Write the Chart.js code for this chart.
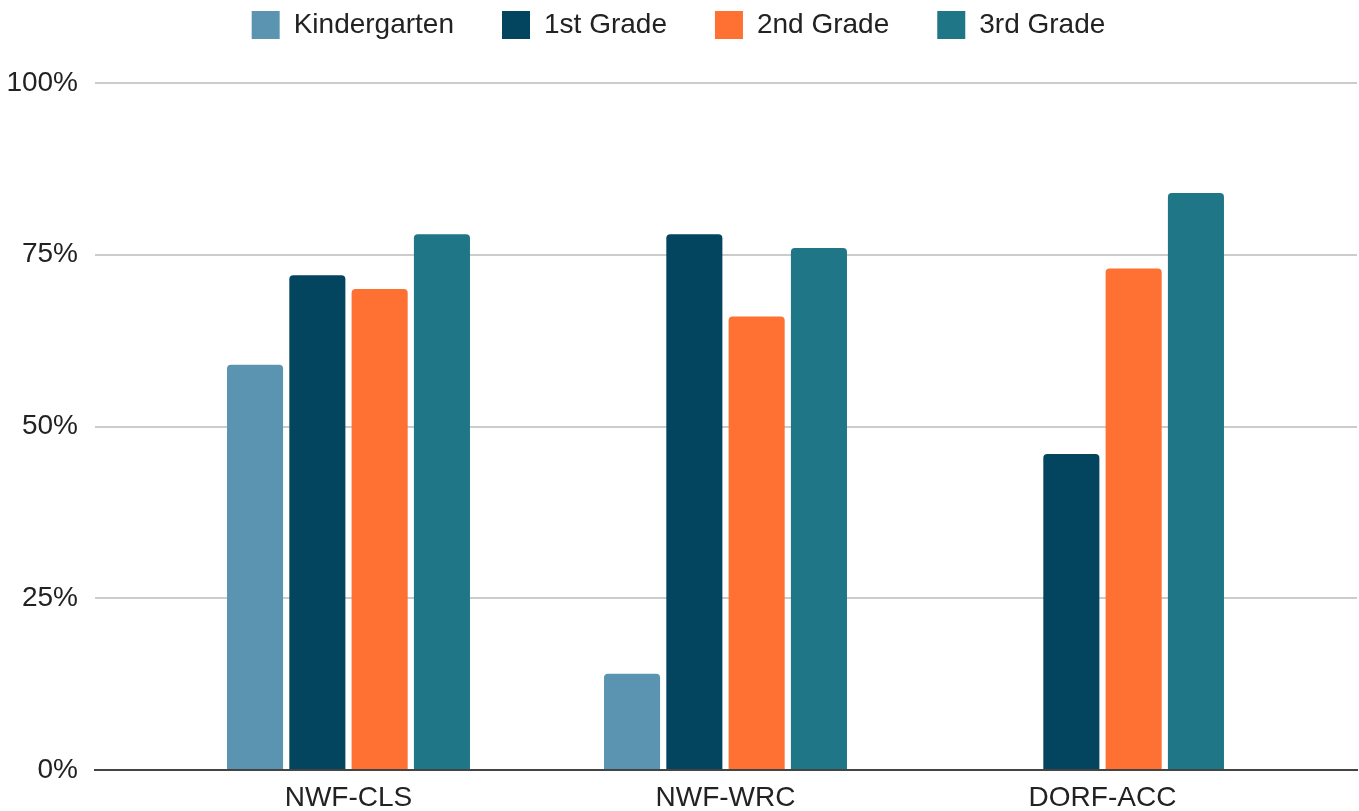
<!DOCTYPE html>
<html>
<head>
<meta charset="utf-8">
<script src="https://cdn.jsdelivr.net/npm/chart.js@4.4.1/dist/chart.umd.min.js"></script>
<style>
  html, body { margin: 0; padding: 0; background: #ffffff; }
  #wrap { width: 1359px; height: 811px; position: relative; }
</style>
</head>
<body>
<div id="wrap"><canvas id="c" width="1359" height="811"></canvas></div>
<script>
const categories = ['NWF-CLS', 'NWF-WRC', 'DORF-ACC'];
const seriesNames = ['Kindergarten', '1st Grade', '2nd Grade', '3rd Grade'];
const kindergarten = [59, 14, null];
const grade1 = [72, 78, 46];
const grade2 = [70, 66, 73];
const grade3 = [78, 76, 84];
const yTicks = [0, 25, 50, 75, 100];

const colors = ['#5b94b1', '#03445f', '#ff7033', '#1e7686'];
const seriesValues = [kindergarten, grade1, grade2, grade3];

const FONT = '"Liberation Sans", Arial, sans-serif';
const TEXT = '#222222';
const LEGEND_PAD = 48;
const LEGEND_BOX_TOP = 11;
const LEGEND_HEIGHT = 83;
const X_MIN = -0.6724;
const X_MAX = 2.6751;

const legendPlace = {
  id: 'legendPlace',
  beforeInit(chart) {
    const lg = chart.legend;
    if (lg) {
      const fit = lg.fit;
      lg.fit = function () { fit.call(this); this.height = LEGEND_HEIGHT; };
    }
  },
  afterLayout(chart) {
    const lg = chart.legend;
    if (lg) {
      lg.top = LEGEND_BOX_TOP - LEGEND_PAD;
      lg.bottom = lg.top + lg.height;
    }
  }
};

const datasets = seriesNames.map((name, s) => ({
  label: name,
  data: categories.map((c, i) => ({ x: i, y: seriesValues[s][i] })),
  backgroundColor: colors[s],
  borderWidth: 0,
  borderRadius: 4,
  categoryPercentage: 0.661,
  barPercentage: 0.9
}));

new Chart(document.getElementById('c'), {
  type: 'bar',
  data: { datasets },
  plugins: [legendPlace],
  options: {
    responsive: false,
    animation: false,
    layout: { padding: { top: 0, right: 2, bottom: 0, left: 0 } },
    plugins: {
      legend: {
        position: 'top',
        align: 'center',
        labels: {
          boxWidth: 28,
          boxHeight: 28,
          padding: LEGEND_PAD,
          color: TEXT,
          font: { family: FONT, size: 28 }
        }
      },
      tooltip: { enabled: false }
    },
    scales: {
      x: {
        type: 'linear',
        offset: false,
        min: X_MIN,
        max: X_MAX,
        grid: { display: false, drawTicks: false, offset: false },
        border: { display: true, color: '#444444', width: 2 },
        ticks: {
          stepSize: 1,
          includeBounds: false,
          autoSkip: false,
          maxRotation: 0,
          padding: 11,
          color: TEXT,
          font: { family: FONT, size: 28 },
          callback: (v) => (Number.isInteger(v) && categories[v] !== undefined) ? categories[v] : ''
        },
        afterFit: (scale) => { scale.height = 41; }
      },
      y: {
        min: 0,
        max: 100,
        grid: {
          color: (ctx) => (ctx.tick && ctx.tick.value === 0) ? 'rgba(0,0,0,0)' : '#cccccc',
          lineWidth: 2,
          drawTicks: false
        },
        border: { display: false },
        afterBuildTicks: (scale) => { scale.ticks = yTicks.map(v => ({ value: v })); },
        ticks: {
          padding: 17,
          color: TEXT,
          font: { family: FONT, size: 28 },
          callback: (v) => v + '%'
        },
        afterFit: (scale) => { scale.width = 95; }
      }
    }
  }
});
</script>
</body>
</html>
